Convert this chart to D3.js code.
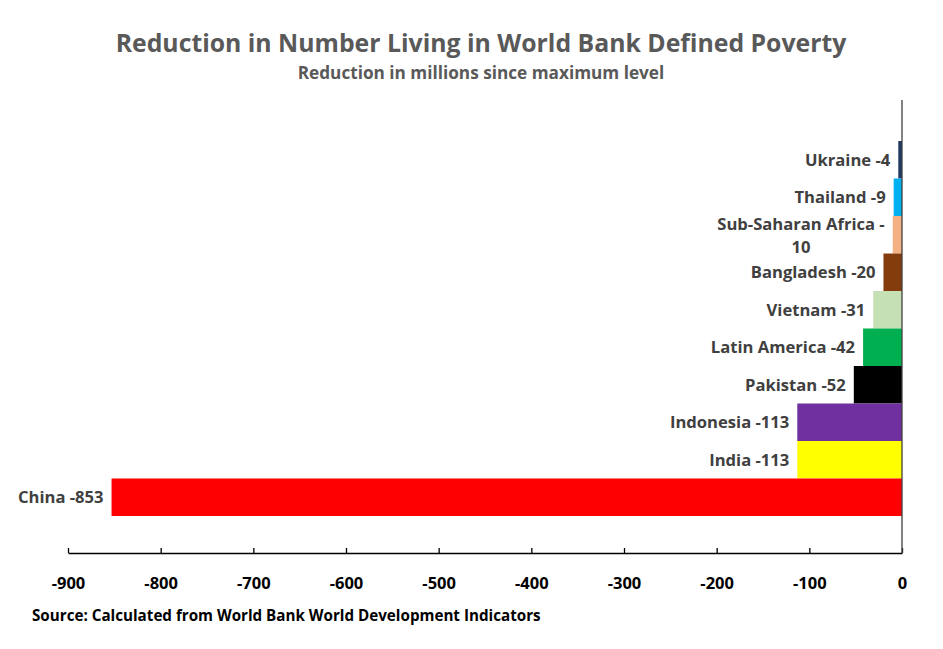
<!DOCTYPE html>
<html><head><meta charset="utf-8">
<script src="https://cdn.jsdelivr.net/npm/d3@7"></script>
<style>body{margin:0;background:#fff;} text{font-family:"Open Sans", sans-serif;font-weight:bold;}</style>
</head><body>
<svg id="c" width="943" height="649"></svg>
<script>
const categories = ["Ukraine","Thailand","Sub-Saharan Africa","Bangladesh","Vietnam","Latin America","Pakistan","Indonesia","India","China"];
const values = [-4,-9,-10,-20,-31,-42,-52,-113,-113,-853];
const colors = ["#1f3864","#00b0f0","#f4b183","#843c0c","#c5e0b4","#00b050","#000000","#7030a0","#ffff00","#ff0000"];
const tickValues = [-900,-800,-700,-600,-500,-400,-300,-200,-100,0];

const svg = d3.select("#c");
const x = d3.scaleLinear().domain([-900,0]).range([68,902]);
const y = d3.scaleBand().domain(categories).range([141,516]).padding(0);

svg.append("text").attr("x",481).attr("y",52).attr("text-anchor","middle")
  .attr("font-size",24.8).attr("fill","#595959").text("Reduction in Number Living in World Bank Defined Poverty");
svg.append("text").attr("x",481).attr("y",79).attr("text-anchor","middle")
  .attr("font-size",17.2).attr("fill","#595959").text("Reduction in millions since maximum level");

svg.selectAll("rect.bar").data(categories).enter().append("rect").attr("class","bar")
  .attr("x",(d,i)=>x(values[i])).attr("y",d=>y(d))
  .attr("width",(d,i)=>x(0)-x(values[i])).attr("height",y.bandwidth())
  .attr("fill",(d,i)=>colors[i]);

const labels = svg.selectAll("text.lab").data(categories).enter().append("text").attr("class","lab")
  .attr("font-size",16.6).attr("fill","#404040");
labels.each(function(d,i){
  const t = d3.select(this);
  const xr = x(values[i]) - 8;
  const yc = y(d) + y.bandwidth()/2;
  if (d === "Sub-Saharan Africa") {
    const l1 = d + " -", l2 = String(-values[i]);
    t.attr("text-anchor","middle");
    const tmp = t.append("tspan").text(l1);
    const w = this.getComputedTextLength();
    tmp.remove();
    const cx = xr - w/2;
    t.append("tspan").attr("x",cx).attr("y",yc-5).text(l1);
    t.append("tspan").attr("x",cx).attr("y",yc+18).text(l2);
  } else {
    t.attr("text-anchor","end").attr("x",xr).attr("y",yc+6).text(d + " " + values[i]);
  }
});

const axis = d3.axisBottom(x).tickValues(tickValues).tickSize(-5).tickSizeOuter(0).tickFormat(d=>String(d));
const g = svg.append("g").attr("transform","translate(0,553)").call(axis);
g.select(".domain").attr("stroke","#000").attr("stroke-width",1.3);
g.selectAll(".tick line").attr("stroke","#000").attr("stroke-width",1.3);
g.selectAll(".tick text").attr("font-size",16.5).attr("fill","#000").attr("dy",0).attr("y",36)
  .style("font-family","'Open Sans', sans-serif").style("font-weight","bold");

svg.append("line").attr("x1",x(0)).attr("x2",x(0)).attr("y1",100).attr("y2",553)
  .attr("stroke","#404040").attr("stroke-width",1.3);

svg.append("text").attr("x",32).attr("y",621).attr("font-size",15.2).attr("fill","#000")
  .text("Source: Calculated from World Bank World Development Indicators");
</script>
</body></html>
